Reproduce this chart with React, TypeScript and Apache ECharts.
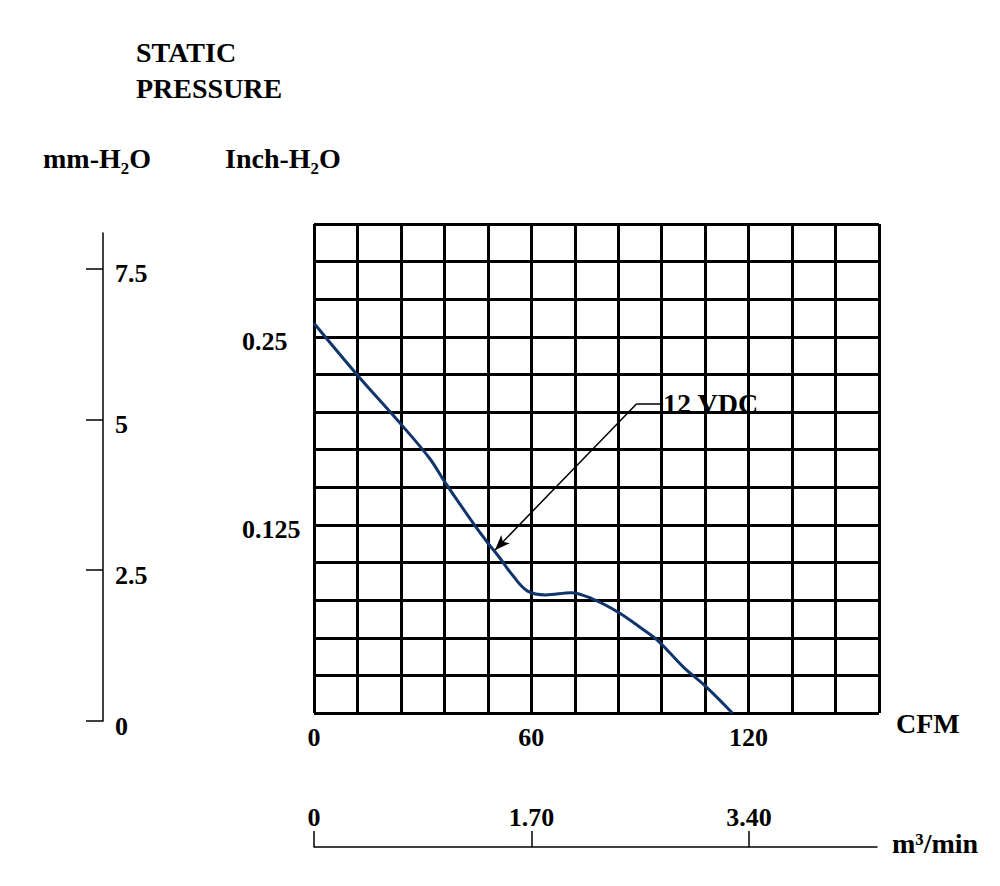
import React, { useEffect, useRef } from 'react';
import * as echarts from 'echarts';

// 风量-静压曲线 (CFM, Inch-H2O)
const curveCfm = [0, 12, 24, 32, 36, 44, 48, 51, 55, 59, 64, 71, 77, 84, 90, 95, 102, 108, 115.5];
const curveInch = [0.259, 0.2245, 0.192, 0.169, 0.154, 0.126, 0.113, 0.104, 0.091, 0.081, 0.0785, 0.08, 0.0757, 0.067, 0.057, 0.048, 0.0305, 0.018, 0];

// 刻度
const cfmLabels = [0, 60, 120];
const inchLabels = [0.125, 0.25];
const mmLabels = [0, 2.5, 5, 7.5];
const m3Labels = [0, 1.7, 3.4];

// 12 VDC 引线 (CFM, Inch)
const leaderPts = [[96.4, 0.2056], [89.1, 0.2056], [50, 0.1084]];

const FONT = '"Liberation Serif", "Times New Roman", serif';

const App: React.FC = () => {
  const chartRef = useRef<HTMLDivElement>(null);

  useEffect(() => {
    document.body.style.margin = '0';
    if (!chartRef.current) return;
    const chart = echarts.init(chartRef.current, null, { renderer: 'svg' });

    const labelStyle = { color: '#000', fontFamily: FONT, fontWeight: 'bold' as const, fontSize: 26 };
    // 标签略低于刻度
    const lowRich = { d: { fontFamily: FONT, fontWeight: 'bold' as const, fontSize: 26, color: '#000', padding: [10, 0, 0, 0] } };
    const titleText = (text: string, x: number, y: number) => ({
      type: 'text',
      x,
      y,
      style: { text, fill: '#000', fontFamily: FONT, fontWeight: 'bold', fontSize: 28, align: 'left', verticalAlign: 'middle' }
    });

    const option: any = {
      animation: false,
      backgroundColor: '#fff',
      grid: [
        { left: 314, right: 121, top: 224, bottom: 173 },
        { left: 103, width: 10, top: 233, bottom: 165 },
        { left: 314, width: 563, top: 830, bottom: 39 }
      ],
      xAxis: [
        {
          gridIndex: 0, type: 'value', min: 0, max: 156, interval: 12,
          axisLine: { show: false }, axisTick: { show: false },
          splitLine: { show: true, lineStyle: { color: '#000', width: 3 } },
          axisLabel: { ...labelStyle, customValues: cfmLabels, margin: 11 }
        },
        { gridIndex: 1, type: 'value', show: false },
        {
          gridIndex: 2, type: 'value', min: 0, max: 4.4, position: 'bottom',
          splitLine: { show: false },
          axisLine: { show: true, lineStyle: { color: '#000', width: 1.5 } },
          axisTick: { show: true, inside: true, length: 16, customValues: m3Labels, lineStyle: { color: '#000', width: 1.5 } },
          axisLabel: {
            ...labelStyle, inside: true, margin: 17, customValues: m3Labels,
            formatter: (v: number) => (v === 0 ? '0' : v.toFixed(2))
          }
        }
      ],
      yAxis: [
        {
          gridIndex: 0, type: 'value', min: 0, max: 0.325, interval: 0.025,
          axisLine: { show: false }, axisTick: { show: false },
          splitLine: { show: true, lineStyle: { color: '#000', width: 3 } },
          axisLabel: {
            ...labelStyle, customValues: inchLabels, align: 'left', margin: 72, rich: lowRich,
            formatter: (v: number) => '{d|' + String(+v.toFixed(3)) + '}'
          }
        },
        {
          gridIndex: 1, type: 'value', min: 0, max: 8.09, position: 'left',
          splitLine: { show: false },
          axisLine: { show: true, lineStyle: { color: '#000', width: 1.5 } },
          axisTick: { show: true, length: 17, customValues: mmLabels, lineStyle: { color: '#000', width: 1.5 } },
          axisLabel: {
            ...labelStyle, inside: true, margin: 12, customValues: mmLabels, rich: lowRich,
            formatter: (v: number) => '{d|' + String(v) + '}'
          }
        },
        { gridIndex: 2, type: 'value', show: false }
      ],
      series: [
        {
          name: '12 VDC',
          type: 'line',
          xAxisIndex: 0,
          yAxisIndex: 0,
          smooth: 0.35,
          showSymbol: false,
          data: curveCfm.map((c, i) => [c, curveInch[i]]),
          lineStyle: { color: '#10356b', width: 3 },
          markLine: {
            silent: true,
            symbol: ['none', 'none'],
            label: { show: false },
            lineStyle: { color: '#000', width: 1.5, type: 'solid' },
            data: [
              [{ coord: leaderPts[0] }, { coord: leaderPts[1] }],
              [{ coord: leaderPts[1] }, { coord: leaderPts[2], symbol: 'arrow', symbolSize: [9, 15] }]
            ]
          }
        }
      ],
      graphic: [
        titleText('STATIC', 136, 52),
        titleText('PRESSURE', 136, 88),
        titleText('mm-H₂O', 43, 158),
        titleText('Inch-H₂O', 225, 158),
        titleText('CFM', 896, 723),
        titleText('m³/min', 892, 843),
        titleText('12 VDC', 663, 403)
      ]
    };

    chart.setOption(option);

    return () => {
      chart.dispose();
    };
  }, []);

  return <div ref={chartRef} style={{ width: 1000, height: 886 }} />;
};

export default App;
